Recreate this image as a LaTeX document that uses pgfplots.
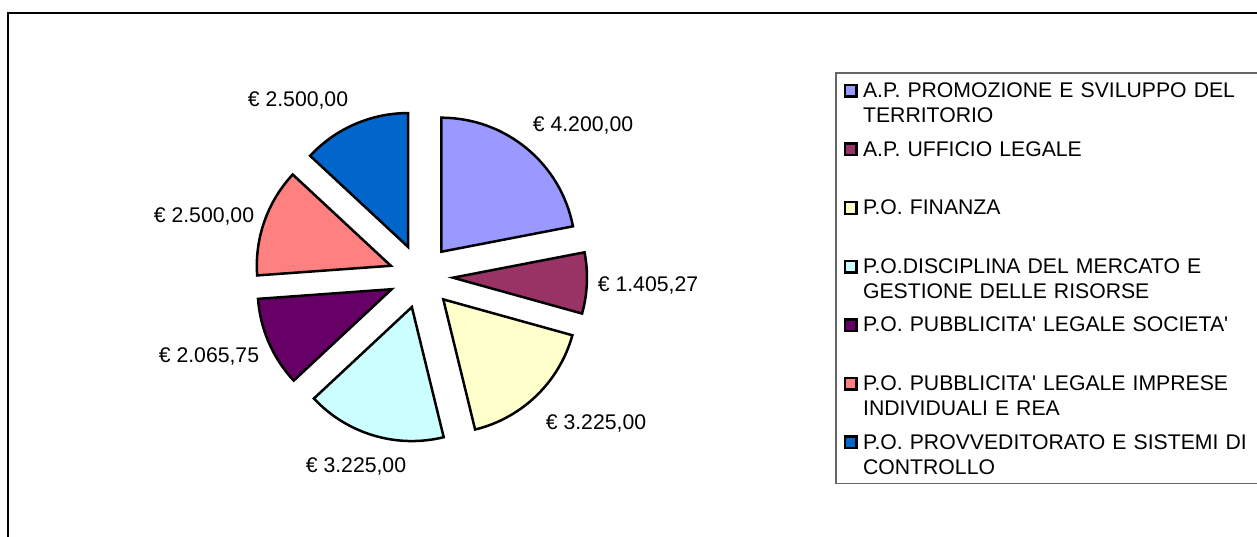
\documentclass[border=0pt]{standalone}
\usepackage{pgfplots}
\pgfplotsset{compat=1.18}
\usepackage{pgfplotstable}
\usepackage{fontspec}
\setmainfont{Liberation Sans}[Ligatures=TeXOff]
\usetikzlibrary{calc}
\definecolor{pie0}{HTML}{9999FF}
\definecolor{pie1}{HTML}{993366}
\definecolor{pie2}{HTML}{FFFFCC}
\definecolor{pie3}{HTML}{CCFFFF}
\definecolor{pie4}{HTML}{660066}
\definecolor{pie5}{HTML}{FF8080}
\definecolor{pie6}{HTML}{0066CC}
\pgfplotstableread{
value
4200
1405.27
3225
3225
2065.75
2500
2500
}\piedata
\begin{document}
\begin{tikzpicture}
\useasboundingbox (0,0) rectangle (628.5pt,268pt);
% cumulative angles (clockwise from 12 o'clock)
\gdef\total{0}
\foreach \i in {0,...,6}{%
  \pgfplotstablegetelem{\i}{value}\of\piedata
  \pgfmathparse{\total+\pgfplotsretval/1000}\xdef\total{\pgfmathresult}}
\gdef\cum{90}
\foreach \i in {0,...,6}{%
  \pgfplotstablegetelem{\i}{value}\of\piedata
  \pgfmathparse{\cum-360*(\pgfplotsretval/1000)/\total}\xdef\nxt{\pgfmathresult}
  \expandafter\xdef\csname sa\i\endcsname{\cum}
  \expandafter\xdef\csname ea\i\endcsname{\nxt}
  \pgfmathparse{(\cum+\nxt)/2}\expandafter\xdef\csname ma\i\endcsname{\pgfmathresult}
  \xdef\cum{\nxt}}
\begin{axis}[
  at={(0,0)}, anchor=south west,
  scale only axis, x=0.5pt, y=0.5pt,
  xmin=0, xmax=1257, ymin=0, ymax=536,
  hide axis, clip=false,
  legend cell align=left,
  legend image code/.code={\draw[#1,line width=1.2pt] (0.6pt,0.45pt) rectangle (6.4pt,6.25pt);},
  legend style={at={(0.66428,0.86511)}, anchor=north west,
    draw=black!60, line width=0.8pt, inner xsep=3.85pt, inner ysep=0pt,
    row sep=0pt, column sep=0pt,
    font=\fontsize{10.6}{12.5}\selectfont,
    nodes={inner xsep=2.8pt, inner ysep=0pt, text width=200pt, align=left,
      text height=12.2pt, text depth=17.1pt, anchor=base west}},
]
\pgfplotsinvokeforeach{0,...,6}{
  \draw[line width=1.25pt, line join=miter, fill=pie#1]
    ($(axis cs:421,259.6)+(\csname ma#1\endcsname:16pt)$)
    -- ++(\csname sa#1\endcsname:67pt)
    arc[start angle=\csname sa#1\endcsname, end angle=\csname ea#1\endcsname, radius=67pt]
    -- cycle;
}
\begin{scope}[every node/.style={font=\fontsize{10.6}{12.5}\selectfont, anchor=base, inner sep=0pt}]
\node at (axis cs:583,404) {€ 4.200,00};
\node at (axis cs:648,244) {€ 1.405,27};
\node at (axis cs:596,107) {€ 3.225,00};
\node at (axis cs:356,64) {€ 3.225,00};
\node at (axis cs:209,174) {€ 2.065,75};
\node at (axis cs:204,314) {€ 2.500,00};
\node at (axis cs:298,429) {€ 2.500,00};
\end{scope}
\draw[line width=1pt] (axis cs:8,-5) -- (axis cs:8,523) -- (axis cs:1265,523);
\addlegendimage{draw=black, fill=pie0}
\addlegendentry{A.P. PROMOZIONE E SVILUPPO DEL\\TERRITORIO}
\addlegendimage{draw=black, fill=pie1}
\addlegendentry{A.P. UFFICIO LEGALE}
\addlegendimage{draw=black, fill=pie2}
\addlegendentry{P.O. FINANZA}
\addlegendimage{draw=black, fill=pie3}
\addlegendentry{P.O.DISCIPLINA DEL MERCATO E\\GESTIONE DELLE RISORSE}
\addlegendimage{draw=black, fill=pie4}
\addlegendentry{P.O. PUBBLICITA' LEGALE SOCIETA'}
\addlegendimage{draw=black, fill=pie5}
\addlegendentry{P.O. PUBBLICITA' LEGALE IMPRESE\\INDIVIDUALI E REA}
\addlegendimage{draw=black, fill=pie6}
\addlegendentry{P.O. PROVVEDITORATO E SISTEMI DI\\CONTROLLO}
\end{axis}
\end{tikzpicture}
\end{document}
